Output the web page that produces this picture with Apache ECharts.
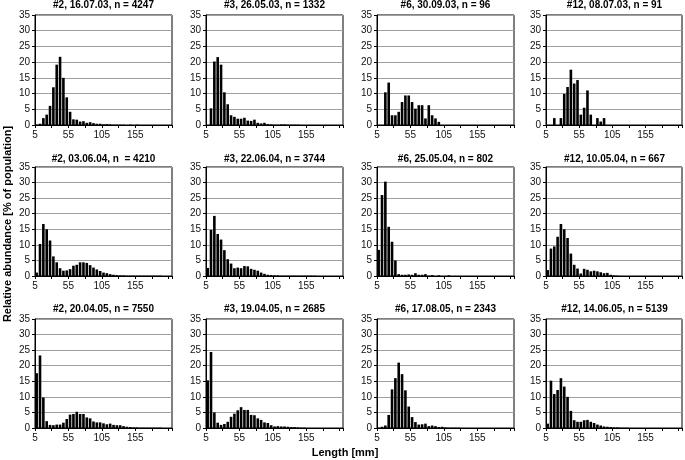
<!DOCTYPE html>
<html>
<head>
<meta charset="utf-8">
<script src="https://cdn.jsdelivr.net/npm/echarts@6/dist/echarts.min.js"></script>
<style>html,body{margin:0;padding:0;background:#fff}#c{width:685px;height:460px}</style>
</head>
<body>
<div id="c"></div>
<script>
// Length classes (lower bound of each 5 mm bin)
const lengthBins = [5,10,15,20,25,30,35,40,45,50,55,60,65,70,75,80,85,90,95,100,105,110,115,120,125,130,135,140,145,150,155,160,165,170,175,180,185,190,195,200,205];
const xTickLabels = [5, 55, 105, 155];
const yTicks = [0,5,10,15,20,25,30,35];

const titles = [
  "#2, 16.07.03, n = 4247", "#3, 26.05.03, n = 1332", "#6, 30.09.03, n = 96", "#12, 08.07.03, n = 91",
  "#2, 03.06.04, n  = 4210", "#3, 22.06.04, n = 3744", "#6, 25.05.04, n = 802", "#12, 10.05.04, n = 667",
  "#2, 20.04.05, n = 7550", "#3, 19.04.05, n = 2685", "#6, 17.08.05, n = 2343", "#12, 14.06.05, n = 5139"
];

const s2_160703 = [0.1,0.4,2.2,3.3,6.1,12,19.2,21.7,15,8.8,4.2,1.8,1.7,1.1,1.2,0.7,0.9,0.6,0.4,0.4,0.2,0.3,0.2,0.1,0.1,0.1,0.1,0,0.1,0,0.1];
const s3_260503 = [0,5.3,20.2,21.6,19.2,10.4,6.6,3.1,2.6,2.0,2.0,2.3,1.4,1.3,1.7,0.7,0.5,0.7,0.3,0.2,0.1,0.1,0.2,0.2,0.1,0.1,0.1,0.1];
const s6_300903 = [0,0,10.4,13.5,3.1,3.1,4.2,7.3,9.4,9.4,7.3,5.2,6.3,6.3,2.1,6.3,3.1,2.1,1.0];
const s12_080703 = [0,0,2.2,0,2.2,9.9,12.1,17.6,13.2,14.3,3.3,5.5,11,3.3,0,2.2,1.1,2.2];
const s2_030604 = [1.1,10.3,16.7,15,11.4,6.3,4.4,2.5,1.7,1.8,2.2,3.3,3.6,4.4,4.4,4.2,3.5,2.7,2.1,1.6,1.1,0.9,0.6,0.4,0.3,0.2,0.2,0.1,0.1,0.1,0.1,0.1,0.1,0.1,0.1,0.1,0.1,0.1];
const s3_220604 = [2.6,14.8,19.3,13.5,11.7,8.3,5.4,4.0,2.5,2.7,2.5,3.2,3.1,2.3,2.0,1.7,1.1,0.7,0.4,0.3,0.2,0.2,0.1,0.1,0.1,0.1,0.1,0.1,0.1,0.1,0.1,0.1,0.1];
const s6_250504 = [8.4,26,30.3,15.8,11,5,0.6,0.4,0.4,0.5,0.4,0.9,0.4,0.4,0.6,0.1,0.3,0,0.2,0,0,0.2];
const s12_100504 = [1.9,8.8,9.5,12.6,16.7,15,12.2,7.2,3.6,2.4,0.8,2.3,2.0,1.5,1.7,1.5,1.2,0.9,1.0,0.4,0.2,0.1];
const s2_200405 = [17.6,23.3,9.8,2.2,1.0,0.9,1.1,1.1,1.7,2.9,4.3,4.5,5.2,4.5,4.5,3.4,3.1,2.1,1.8,1.8,1.5,1.2,1.4,1.0,0.9,0.9,0.6,0.4,0.3,0.2,0.2,0.1,0.1,0.1,0.1,0.1,0.1,0.1];
const s3_190405 = [15.3,24.4,5.0,1.7,1.0,1.3,2.0,3.6,4.6,5.7,6.7,5.8,5.8,4.2,4.1,3.1,2.6,1.8,1.6,0.9,0.5,0.6,0.5,0.5,0.4,0.3,0.3,0.2,0.1,0.1];
const s6_170805 = [0.1,0.4,0.8,4.2,12.4,16,21,17.3,12.1,6.9,3.5,1.9,1.1,1.2,1.4,0.6,0.8,0.6,0.3,0.4,0.2,0.1,0.1,0.1,0.1];
const s12_140605 = [1.4,15.2,10.9,12.2,16,13.3,10,5.5,2.5,2,2,2.5,2.6,2,1.6,1.1,0.8,0.5,0.4,0.3,0.2,0.2,0.1,0.1,0.1];

const panels = [s2_160703, s3_260503, s6_300903, s12_080703,
                s2_030604, s3_220604, s6_250504, s12_100504,
                s2_200405, s3_190405, s6_170805, s12_140605];

const colLeft = [35, 206, 377, 546];
const plotW = 137;
const rowTop = [15, 167, 319];
const rowH = [110, 109, 109];
const titleTop = [0, 154, 304];

const FONT = "'Liberation Sans', Arial, sans-serif";
const grids = [], xAxes = [], yAxes = [], series = [], titleList = [];

panels.forEach((vals, k) => {
  const r = Math.floor(k / 4), c = k % 4;
  grids.push({left: colLeft[c], top: rowTop[r], width: plotW, height: rowH[r],
    show: true, borderColor: '#000', borderWidth: 1, backgroundColor: '#fff'});
  xAxes.push({type: 'value', gridIndex: k, min: 5, max: 210, interval: 25,
    axisLine: {show: true, onZero: false, lineStyle: {color: '#000', width: 1}},
    axisTick: {show: true, length: 3, lineStyle: {color: '#000'}},
    splitLine: {show: false},
    axisLabel: {fontFamily: FONT, fontSize: 10, color: '#111', margin: 5,
      formatter: v => (xTickLabels.indexOf(v) >= 0 ? String(v) : '')}});
  yAxes.push({type: 'value', gridIndex: k, min: yTicks[0], max: yTicks[yTicks.length-1], interval: 5,
    axisLine: {show: true, lineStyle: {color: '#000', width: 1}},
    axisTick: {show: true, length: 3, lineStyle: {color: '#000'}},
    splitLine: {show: true, lineStyle: {color: '#a0a0a0', width: 1}},
    axisLabel: {fontFamily: FONT, fontSize: 10, color: '#111', margin: 5}});
  series.push({type: 'bar', xAxisIndex: k, yAxisIndex: k, barWidth: 2.6,
    itemStyle: {color: '#000'}, silent: true, animation: false,
    data: vals.map((v, i) => [lengthBins[i] + 2.5, v])});
  titleList.push({text: titles[k], left: colLeft[c] + plotW / 2, top: titleTop[r],
    textAlign: 'center', padding: 0,
    textStyle: {fontFamily: FONT, fontSize: 10, fontWeight: 'bold', color: '#000'}});
});

titleList.push({text: 'Length [mm]', left: 345, top: 447, textAlign: 'center', padding: 0,
  textStyle: {fontFamily: FONT, fontSize: 11, fontWeight: 'bold', color: '#000'}});

const chart = echarts.init(document.getElementById('c'), null, {renderer: 'canvas'});
chart.setOption({
  animation: false,
  title: titleList,
  grid: grids, xAxis: xAxes, yAxis: yAxes, series: series,
  graphic: [{type: 'text', rotation: Math.PI / 2,
    x: 8, y: 224,
    style: {text: 'Relative abundance [% of population]', font: "bold 11px 'Liberation Sans', Arial, sans-serif",
      fill: '#000', textAlign: 'center', textVerticalAlign: 'middle'}}]
});
</script>
</body>
</html>
